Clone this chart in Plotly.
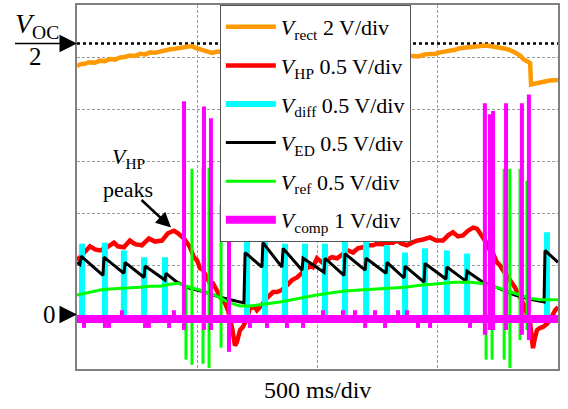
import plotly.graph_objects as go

# ---------------- data (time in ms, 500 ms/div; amplitude in screen divisions) ----------------
time_range = [0, 2000]
div_range = [-1, 6]
voc_half_level = 5.26
grid_step_t = 500

legend_names = [
    "<i>V</i><sub>rect</sub> 2 V/div",
    "<i>V</i><sub>HP</sub> 0.5 V/div",
    "<i>V</i><sub>diff</sub> 0.5 V/div",
    "<i>V</i><sub>ED</sub> 0.5 V/div",
    "<i>V</i><sub>ref</sub> 0.5 V/div",
    "<i>V</i><sub>comp</sub> 1 V/div",
]

rect_t = [0, 15, 33, 50, 75, 95, 116, 135, 158, 180,
          200, 220, 241, 262, 283, 305, 324, 345, 366, 387,
          407, 428, 449, 465, 478, 490, 503, 518, 532, 547,
          561, 580, 595, 700, 800, 900, 1000, 1100, 1200, 1300,
          1418, 1430, 1447, 1470, 1489, 1510, 1530, 1550, 1572, 1593,
          1613, 1634, 1655, 1676, 1696, 1717, 1738, 1759, 1780, 1795,
          1809, 1820, 1834, 1845, 1855, 1863, 1871, 1878, 1884, 1888,
          1896, 1904, 1925, 1946, 1967, 1985, 2000]
rect_v = [4.83, 4.86, 4.87, 4.90, 4.89, 4.93, 4.92, 4.96, 4.95, 4.99,
          5.00, 5.03, 5.02, 5.06, 5.05, 5.09, 5.08, 5.11, 5.12, 5.15,
          5.16, 5.18, 5.19, 5.21, 5.21, 5.18, 5.16, 5.14, 5.13, 5.10,
          5.08, 5.10, 5.10, 5.12, 5.15, 5.17, 5.18, 5.16, 5.12, 5.06,
          5.01, 5.03, 5.05, 5.06, 5.06, 5.09, 5.10, 5.12, 5.14, 5.17,
          5.18, 5.19, 5.20, 5.21, 5.22, 5.21, 5.20, 5.18, 5.16, 5.14,
          5.12, 5.09, 5.05, 5.02, 4.96, 4.95, 4.92, 4.90, 4.88, 4.47,
          4.48, 4.50, 4.52, 4.53, 4.55, 4.55, 4.56]

hp_t = [0, 21, 42, 54, 75, 96, 125, 154, 170, 195,
        220, 241, 270, 299, 324, 353, 378, 403, 420, 445,
        470, 486, 499, 511, 524, 553, 565, 586, 603, 615,
        628, 644, 657, 665, 678, 690, 707, 719, 740, 748,
        769, 782, 802, 815, 832, 852, 873, 894, 915, 940,
        969, 981, 998, 1019, 1040, 1060, 1081, 1106, 1127, 1148,
        1168, 1189, 1206, 1231, 1247, 1272, 1289, 1314, 1331, 1351,
        1372, 1393, 1414, 1439, 1468, 1493, 1522, 1543, 1563, 1584,
        1605, 1626, 1647, 1663, 1676, 1692, 1705, 1717, 1730, 1746,
        1759, 1771, 1788, 1800, 1821, 1834, 1846, 1863, 1875, 1884,
        1892, 1896, 1904, 1913, 1925, 1938, 1954, 1967, 1988, 2000]
hp_v = [1.09, 1.19, 1.28, 1.36, 1.30, 1.28, 1.34, 1.43, 1.36, 1.34,
        1.47, 1.40, 1.38, 1.51, 1.45, 1.47, 1.61, 1.66, 1.61, 1.51,
        1.34, 1.15, 1.09, 0.94, 0.90, 0.65, 0.65, 0.46, 0.33, 0.27,
        0.13, -0.19, -0.55, -0.48, -0.25, -0.19, -0.02, 0.17, 0.19, 0.13,
        0.23, 0.33, 0.42, 0.48, 0.48, 0.52, 0.61, 0.71, 0.76, 0.86,
        0.99, 0.96, 1.13, 1.05, 1.09, 1.15, 1.13, 1.22, 1.28, 1.24,
        1.32, 1.34, 1.38, 1.38, 1.41, 1.40, 1.43, 1.43, 1.47, 1.41,
        1.38, 1.43, 1.47, 1.49, 1.53, 1.47, 1.47, 1.57, 1.63, 1.55,
        1.57, 1.66, 1.72, 1.70, 1.61, 1.51, 1.41, 1.28, 1.22, 1.05,
        0.99, 0.90, 0.80, 0.71, 0.57, 0.46, 0.33, 0.19, -0.02, -0.11,
        -0.44, -0.60, -0.40, -0.25, -0.21, -0.19, -0.13, -0.06, 0.13, 0.19]

diff_spike_t = [21, 116, 195, 279, 366, 707, 782, 865, 948, 1031,
                1114, 1202, 1289, 1364, 1447, 1538, 1622, 1954]
diff_spike_peak = [1.41, 1.43, 1.28, 1.15, 1.15, 1.47, 1.47, 1.41, 1.41, 1.41,
                   1.51, 1.47, 1.38, 1.24, 1.32, 1.28, 1.22, 1.63]
diff_base = 0.0

ed_t = [0, 12, 17, 108, 112, 195, 200, 279, 283, 366,
        370, 416, 470, 532, 595, 657, 694, 699, 769, 773,
        852, 857, 936, 940, 1027, 1031, 1110, 1114, 1198, 1202,
        1285, 1289, 1360, 1364, 1443, 1447, 1534, 1538, 1617, 1622,
        1688, 1759, 1821, 1884, 1942, 1946, 2000]
ed_v = [1.05, 1.01, 1.17, 0.80, 1.15, 0.84, 1.05, 0.76, 0.98, 0.71,
        0.84, 0.67, 0.55, 0.48, 0.38, 0.31, 0.27, 1.24, 0.96, 1.43,
        0.96, 1.32, 0.90, 1.13, 0.86, 1.13, 0.80, 1.22, 0.90, 1.13,
        0.84, 1.05, 0.75, 0.98, 0.67, 1.03, 0.73, 0.96, 0.69, 0.88,
        0.67, 0.54, 0.42, 0.34, 0.29, 1.28, 1.05]

ref_t = [0, 54, 96, 137, 179, 220, 262, 304, 345, 387,
         420, 470, 511, 574, 636, 678, 719, 782, 844, 927,
         990, 1052, 1114, 1177, 1239, 1301, 1364, 1426, 1509, 1572,
         1634, 1676, 1717, 1759, 1800, 1842, 1884, 1925, 2000]
ref_v = [0.42, 0.48, 0.52, 0.54, 0.55, 0.55, 0.57, 0.59, 0.59, 0.63,
         0.65, 0.57, 0.52, 0.42, 0.27, 0.21, 0.21, 0.25, 0.29, 0.36,
         0.42, 0.46, 0.50, 0.52, 0.54, 0.55, 0.57, 0.61, 0.65, 0.67,
         0.67, 0.65, 0.61, 0.55, 0.48, 0.42, 0.36, 0.33, 0.33]
ref_spike_t = [453, 478, 524, 549, 599, 1701, 1726, 1776, 1800, 1842, 1871]
ref_spike_hi = [0.61, 2.85, 2.87, 2.87, 2.18, 0.63, 0.60, 2.85, 2.85, 2.85, 2.62]
ref_spike_lo = [-0.82, -0.92, -0.90, -0.98, -0.59, -0.82, -0.82, -0.82, -0.98, -0.44, -0.25]

comp_level = -0.04
comp_spike_t = [29, 116, 133, 187, 283, 299, 383, 403, 445, 528,
                557, 632, 719, 790, 873, 940, 1023, 1106, 1156, 1198,
                1239, 1281, 1335, 1372, 1418, 1468, 1634, 1696, 1717, 1730,
                1784, 1850, 1879]
comp_spike_hi = [-0.04, -0.04, -0.04, 0.13, -0.04, -0.04, -0.04, 0.13, 4.15, 4.05,
                 3.82, 1.55, -0.04, -0.04, -0.04, -0.04, 0.13, 0.13, 0.13, -0.04,
                 0.13, -0.04, 0.13, 0.13, -0.04, -0.04, -0.04, 4.11, 3.90, 3.96,
                 4.11, 4.11, 4.28]
comp_spike_lo = [-0.21, -0.21, -0.21, -0.04, -0.21, -0.21, -0.21, -0.04, -0.25, -0.25,
                 -0.25, -0.67, -0.21, -0.21, -0.21, -0.21, -0.04, -0.04, -0.04, -0.21,
                 -0.04, -0.21, -0.04, -0.04, -0.21, -0.21, -0.21, -0.34, -0.25, -0.25,
                 -0.25, -0.34, -0.44]

for a, b in [(rect_t, rect_v), (hp_t, hp_v), (diff_spike_t, diff_spike_peak), (ed_t, ed_v),
             (ref_t, ref_v), (ref_spike_t, ref_spike_hi), (ref_spike_t, ref_spike_lo),
             (comp_spike_t, comp_spike_hi), (comp_spike_t, comp_spike_lo)]:
    assert len(a) == len(b), (len(a), len(b))

# ---------------- figure ----------------
FONT = "Liberation Serif"
ORANGE, RED, CYAN, BLACK, GREEN, MAGENTA = "#FF9A00", "#FF0000", "#00FFFF", "#000000", "#00FF00", "#FF00FF"


def vsegments(ts, lo, hi):
    xs, ys = [], []
    for t, a, b in zip(ts, lo, hi):
        xs += [t, t, None]
        ys += [a, b, None]
    return xs, ys


fig = go.Figure()


def line_trace(x, y, color, width, name=None, rank=None, dash=None):
    fig.add_trace(go.Scatter(
        x=x, y=y, mode="lines",
        line=dict(color=color, width=width, dash=dash),
        name=name if name else "",
        showlegend=name is not None,
        legendrank=rank if rank else 1000,
        legendgroup=("g%d" % rank) if rank else None,
        hoverinfo="skip", connectgaps=False,
    ))


line_trace(time_range, [voc_half_level, voc_half_level], BLACK, 2.5, dash="dot")
line_trace(rect_t, rect_v, ORANGE, 4.5, legend_names[0], 1)
line_trace(hp_t, hp_v, RED, 4.5, legend_names[1], 2)
dx, dy = vsegments(diff_spike_t, [diff_base] * len(diff_spike_t), diff_spike_peak)
line_trace(dx, dy, CYAN, 6, legend_names[2], 3)
line_trace(ed_t, ed_v, BLACK, 3, legend_names[3], 4)
line_trace(ref_t, ref_v, GREEN, 3, legend_names[4], 5)
gx, gy = vsegments(ref_spike_t, ref_spike_lo, ref_spike_hi)
line_trace(gx, gy, GREEN, 3)
line_trace(time_range, [comp_level, comp_level], MAGENTA, 8, legend_names[5], 6)
mx, my = vsegments(comp_spike_t, comp_spike_lo, comp_spike_hi)
line_trace(mx, my, MAGENTA, 4)

axis_common = dict(showticklabels=False, ticks="", showgrid=True, gridcolor="#9a9a9a",
                   griddash="3px,2px", gridwidth=1, showline=True, linecolor="#808080",
                   linewidth=1.5, mirror=True, zeroline=False, fixedrange=True)

fig.update_layout(
    width=568, height=409,
    margin=dict(l=77, r=10, t=3, b=40),
    paper_bgcolor="white", plot_bgcolor="white",
    font=dict(family=FONT, size=22, color="black"),
    xaxis=dict(range=time_range, dtick=grid_step_t, tick0=0, **axis_common),
    yaxis=dict(range=div_range, dtick=1, tick0=0, **axis_common),
    legend=dict(x=0.297, y=1.0, xanchor="left", yanchor="top", bgcolor="white",
                bordercolor="#555555", borderwidth=1, font=dict(family=FONT, size=22),
                tracegroupgap=7, itemwidth=50, traceorder="grouped"),
    showlegend=True,
)

# left-hand level markers
fig.add_annotation(xref="paper", yref="paper", x=-0.083, y=0.945, text="<i>V</i><sub>OC</sub>",
                   showarrow=False, font=dict(size=28), xanchor="center", yanchor="middle")
fig.add_annotation(xref="paper", yref="paper", x=-0.087, y=0.858, text="2",
                   showarrow=False, font=dict(size=25), xanchor="center", yanchor="middle")
fig.add_shape(type="line", xref="paper", yref="paper", x0=-0.129, x1=-0.035, y0=0.894, y1=0.894,
              line=dict(color="black", width=1.5))
fig.add_annotation(xref="paper", yref="y", x=0, y=voc_half_level, ax=-17, ay=0, text="",
                   showarrow=True, arrowhead=2, arrowsize=1.4, arrowwidth=2.5, arrowcolor="black")
fig.add_annotation(xref="paper", yref="y", x=-0.058, y=0.05, text="0",
                   showarrow=False, font=dict(size=25), xanchor="center", yanchor="middle")
fig.add_annotation(xref="paper", yref="y", x=0, y=0.05, ax=-17, ay=0, text="",
                   showarrow=True, arrowhead=2, arrowsize=1.4, arrowwidth=2.5, arrowcolor="black")

# V_HP peaks callout
fig.add_annotation(x=215, y=3.05, text="<i>V</i><sub>HP</sub>", showarrow=False,
                   font=dict(size=22), xanchor="center", yanchor="middle")
fig.add_annotation(x=212, y=2.45, text="peaks", showarrow=False,
                   font=dict(size=22), xanchor="center", yanchor="middle")
fig.add_annotation(x=391, y=1.72, ax=-31, ay=-29, text="", showarrow=True,
                   arrowhead=2, arrowsize=1.2, arrowwidth=2.5, arrowcolor="black")

# time-base label
fig.add_annotation(xref="paper", yref="paper", x=0.5, y=-0.057, text="500 ms/div",
                   showarrow=False, font=dict(size=24), xanchor="center", yanchor="middle")

fig.write_html("out.html", config={"displayModeBar": False},
               post_script="document.body.style.margin='0';")
